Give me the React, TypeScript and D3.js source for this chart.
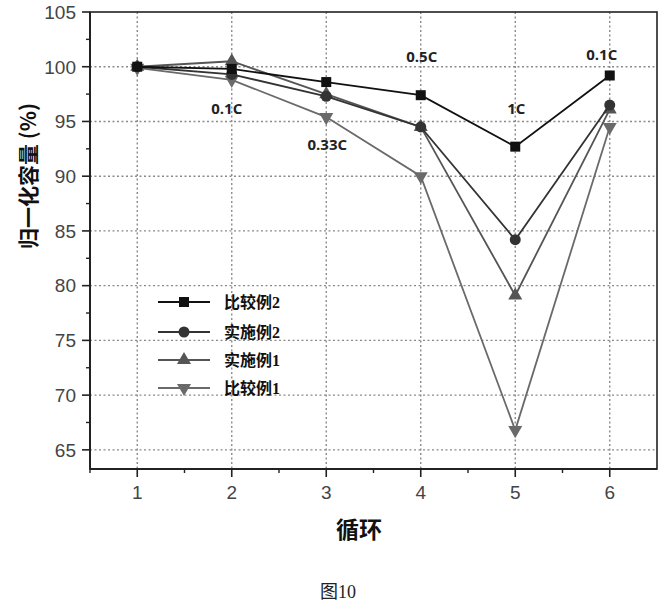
import React from "react";
import * as d3 from "d3";

const cycles = [1, 2, 3, 4, 5, 6];
const seriesNames = ["比较例2", "实施例2", "实施例1", "比较例1"];
const comp2 = [100, 99.8, 98.6, 97.4, 92.7, 99.2];
const ex2 = [100, 99.3, 97.3, 94.5, 84.2, 96.5];
const ex1 = [100, 100.5, 97.5, 94.5, 79.1, 96.1];
const comp1 = [99.9, 98.8, 95.4, 90.0, 66.8, 94.5];
const rateLabels = ["0.1C", "0.33C", "0.5C", "1C", "0.1C"];
const rateCycle = [2, 3, 4, 5, 6];
const rateValue = [96.2, 92.9, 100.9, 96.2, 101.1];
const yTicks = [65, 70, 75, 80, 85, 90, 95, 100, 105];
const xTickLabels = ["1", "2", "3", "4", "5", "6"];

const W = 664;
const H = 607;
const left = 90, right = 657, top = 12, bottom = 469;

const x = d3.scaleLinear().domain([0.5, 6.5]).range([left, right]);
const y = d3.scaleLinear().domain([63.25, 105]).range([bottom, top]);

type Shape = "square" | "circle" | "up" | "down";
const styles: { data: number[]; shape: Shape; color: string }[] = [
  { data: comp2, shape: "square", color: "#111" },
  { data: ex2, shape: "circle", color: "#333" },
  { data: ex1, shape: "up", color: "#555" },
  { data: comp1, shape: "down", color: "#6a6a6a" },
];

function Marker({ shape, cx, cy, color }: { shape: Shape; cx: number; cy: number; color: string }) {
  if (shape === "square") return <rect x={cx - 5} y={cy - 5} width={10} height={10} fill={color} />;
  if (shape === "circle") return <circle cx={cx} cy={cy} r={5.5} fill={color} />;
  const sym = d3.symbol().type(d3.symbolTriangle).size(85)();
  return (
    <path
      d={sym || ""}
      transform={`translate(${cx},${cy}) rotate(${shape === "down" ? 180 : 0})`}
      fill={color}
    />
  );
}

export default function App() {
  const line = d3
    .line<number>()
    .x((_, i) => x(cycles[i]))
    .y((d) => y(d));
  const minorY = d3.range(65, 105, 2.5).filter((v) => v % 5 !== 0);
  const minorX = d3.range(0.5, 6.5, 1);
  const legendY = [302, 332, 360, 388];
  return (
    <svg width={W} height={H} style={{ display: "block", position: "absolute", left: 0, top: 0 }}>
      <rect width={W} height={H} fill="#fff" />
      {/* grid */}
      {yTicks.slice(0, -1).map((v) => (
        <line key={"gy" + v} x1={left} x2={right} y1={y(v)} y2={y(v)} stroke="#8a8a8a" strokeWidth={1.4} strokeDasharray="2,2.5" />
      ))}
      {cycles.map((c) => (
        <line key={"gx" + c} x1={x(c)} x2={x(c)} y1={top} y2={bottom} stroke="#8a8a8a" strokeWidth={1.4} strokeDasharray="2,2.5" />
      ))}
      {/* frame */}
      <rect x={left} y={top} width={right - left} height={bottom - top} fill="none" stroke="#222" strokeWidth={1.6} />
      <line x1={left} x2={left} y1={top} y2={bottom} stroke="#222" strokeWidth={2} />
      <line x1={left} x2={right} y1={bottom} y2={bottom} stroke="#222" strokeWidth={2} />
      {/* y ticks */}
      {yTicks.map((v) => (
        <g key={"yt" + v}>
          <line x1={left - 8} x2={left} y1={y(v)} y2={y(v)} stroke="#222" strokeWidth={1.6} />
          <text x={76} y={y(v)} dy="0.36em" textAnchor="end" fontFamily="'Liberation Sans', Arial, sans-serif" fontSize={19} fill="#444">
            {v}
          </text>
        </g>
      ))}
      {minorY.map((v) => (
        <line key={"ym" + v} x1={left - 4} x2={left} y1={y(v)} y2={y(v)} stroke="#222" strokeWidth={1.4} />
      ))}
      {/* x ticks */}
      {cycles.map((c, i) => (
        <g key={"xt" + c}>
          <line x1={x(c)} x2={x(c)} y1={bottom} y2={bottom + 8} stroke="#222" strokeWidth={1.6} />
          <text x={x(c)} y={499} textAnchor="middle" fontFamily="'Liberation Sans', Arial, sans-serif" fontSize={19} fill="#444">
            {xTickLabels[i]}
          </text>
        </g>
      ))}
      {minorX.map((c) => (
        <line key={"xm" + c} x1={x(c)} x2={x(c)} y1={bottom} y2={bottom + 4} stroke="#222" strokeWidth={1.4} />
      ))}
      {/* series */}
      {styles
        .slice()
        .reverse()
        .map((s, k) => (
          <g key={"s" + k}>
            <path d={line(s.data) || ""} fill="none" stroke={s.color} strokeWidth={1.8} />
            {s.data.map((v, i) => (
              <Marker key={i} shape={s.shape} cx={x(cycles[i])} cy={y(v)} color={s.color} />
            ))}
          </g>
        ))}
      {/* rate labels */}
      {rateLabels.map((t, i) => (
        <text key={"r" + i} x={x(rateCycle[i]) + (i === 0 ? -5 : i === 3 ? 1 : i === 4 ? -8 : 1)} y={y(rateValue[i])} dy="0.35em" textAnchor="middle" fontFamily="'Open Sans', sans-serif" fontWeight={700} fontSize={15} fill="#222">
          {t}
        </text>
      ))}
      {/* legend */}
      {seriesNames.map((n, i) => (
        <g key={"l" + i}>
          <line x1={158} x2={210} y1={legendY[i]} y2={legendY[i]} stroke={styles[i].color} strokeWidth={1.8} />
          <Marker shape={styles[i].shape} cx={184} cy={legendY[i]} color={styles[i].color} />
          <text x={224} y={legendY[i]} dy="0.36em" fontFamily="'Liberation Serif', 'Noto Sans CJK SC', serif" fontWeight={700} fontSize={16} fill="#111">
            {n}
          </text>
        </g>
      ))}
      {/* axis titles */}
      <text transform={`translate(36,176) rotate(-90)`} textAnchor="middle" fontFamily="'Noto Sans CJK SC', sans-serif" fontWeight={700} fontSize={21} fill="#111">
        归一化容量 (%)
      </text>
      <text x={359} y={538} textAnchor="middle" fontFamily="'Noto Sans CJK SC', serif" fontWeight={700} fontSize={23} fill="#111">
        循环
      </text>
      <text x={338} y={598} textAnchor="middle" fontFamily="'Liberation Serif', 'Noto Sans CJK SC', serif" fontSize={18} fill="#222">
        图10
      </text>
    </svg>
  );
}
